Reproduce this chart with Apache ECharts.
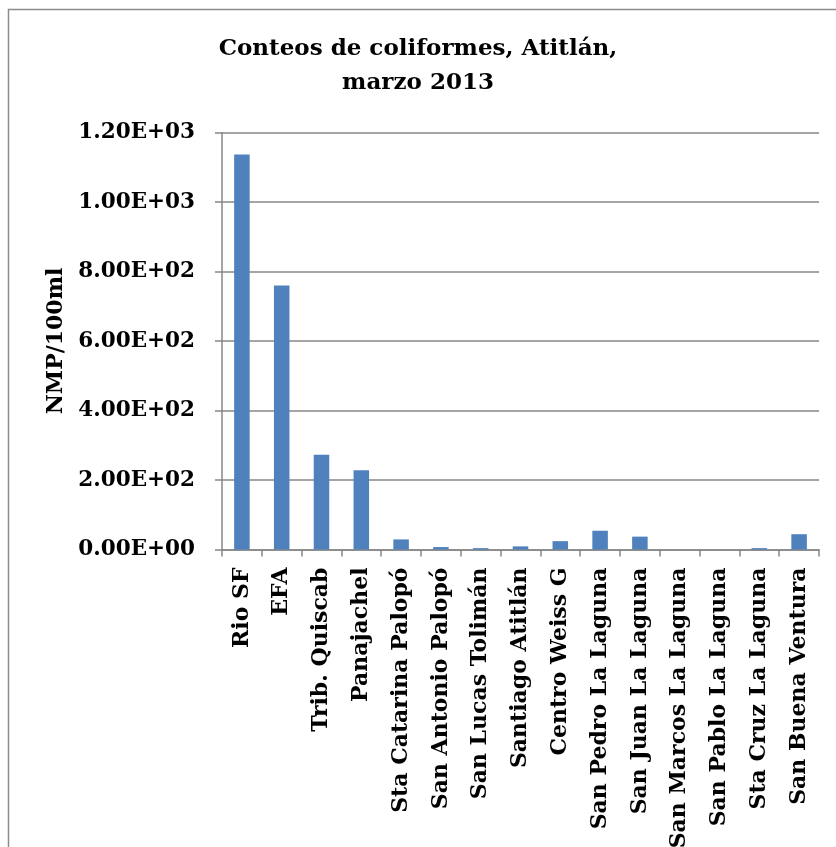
<!DOCTYPE html>
<html>
<head>
<meta charset="utf-8">
<script src="https://cdn.jsdelivr.net/npm/echarts@6/dist/echarts.min.js"></script>
<style>
  html, body { margin: 0; padding: 0; background: #ffffff; }
  #chart { width: 836px; height: 847px; }
</style>
</head>
<body>
<div id="chart"></div>
<script>
// Sampling sites around Lake Atitlán
const sites = [
  'Rio SF', 'EFA', 'Trib. Quiscab', 'Panajachel', 'Sta Catarina Palopó',
  'San Antonio Palopó', 'San Lucas Tolimán', 'Santiago Atitlán', 'Centro Weiss G',
  'San Pedro La Laguna', 'San Juan La Laguna', 'San Marcos La Laguna',
  'San Pablo La Laguna', 'Sta Cruz La Laguna', 'San Buena Ventura'
];
// Coliform counts, NMP/100ml
const counts = [1137, 760, 273, 228, 29, 7, 4, 9, 24, 54, 37, 0, 0, 4, 44];
// Value axis range
const yMin = 0, yMax = 1200, yStep = 200;

const titleText = 'Conteos de coliformes, Atitlán,\nmarzo 2013';
const yName = 'NMP/100ml';

const FONT = '"DejaVu Serif", "Liberation Serif", serif';
const GRAY = '#878787';

// Scientific notation as 1.20E+03
function sci(v) {
  if (v === 0) return '0.00E+00';
  const e = Math.floor(Math.log10(Math.abs(v)));
  const m = v / Math.pow(10, e);
  const sign = e < 0 ? '-' : '+';
  const ex = String(Math.abs(e)).padStart(2, '0');
  return m.toFixed(2) + 'E' + sign + ex;
}

const chart = echarts.init(document.getElementById('chart'), null, { renderer: 'canvas' });
chart.setOption({
  animation: false,
  backgroundColor: '#ffffff',
  title: {
    text: titleText,
    left: 'center',
    top: 27,
    textStyle: {
      fontFamily: FONT, fontWeight: 'bold', fontSize: 23, lineHeight: 34, color: '#000'
    }
  },
  graphic: [{
    type: 'rect',
    shape: { x: 8.5, y: 9.5, width: 1000, height: 1000 },
    style: { fill: 'none', stroke: '#8c8c8c', lineWidth: 1.5 },
    silent: true
  }],
  grid: {
    left: 222, right: 17, top: 132.5, bottom: 297.5,
    containLabel: false, outerBoundsMode: 'none'
  },
  xAxis: {
    type: 'category',
    data: sites,
    boundaryGap: true,
    axisLine: { lineStyle: { color: GRAY, width: 1.5 } },
    axisTick: { show: true, length: 7, alignWithLabel: false, lineStyle: { color: GRAY, width: 1.5 } },
    axisLabel: {
      rotate: 90, interval: 0, margin: 18, hideOverlap: false,
      fontFamily: FONT, fontWeight: 'bold', fontSize: 22, color: '#000'
    }
  },
  yAxis: {
    type: 'value',
    min: yMin, max: yMax, interval: yStep,
    name: yName,
    nameLocation: 'middle',
    nameGap: 150,
    nameRotate: 90,
    nameTextStyle: { fontFamily: FONT, fontWeight: 'bold', fontSize: 22, color: '#000' },
    axisLine: { show: true, lineStyle: { color: GRAY, width: 1.5 } },
    axisTick: { show: true, length: 7, lineStyle: { color: GRAY, width: 1.5 } },
    splitLine: { show: true, lineStyle: { color: GRAY, width: 1.5 } },
    axisLabel: {
      margin: 27,
      formatter: sci,
      fontFamily: FONT, fontWeight: 'bold', fontSize: 21.5, color: '#000'
    }
  },
  series: [{
    type: 'bar',
    data: counts,
    barWidth: '39%',
    itemStyle: { color: '#4f81bd' }
  }]
});
</script>
</body>
</html>
